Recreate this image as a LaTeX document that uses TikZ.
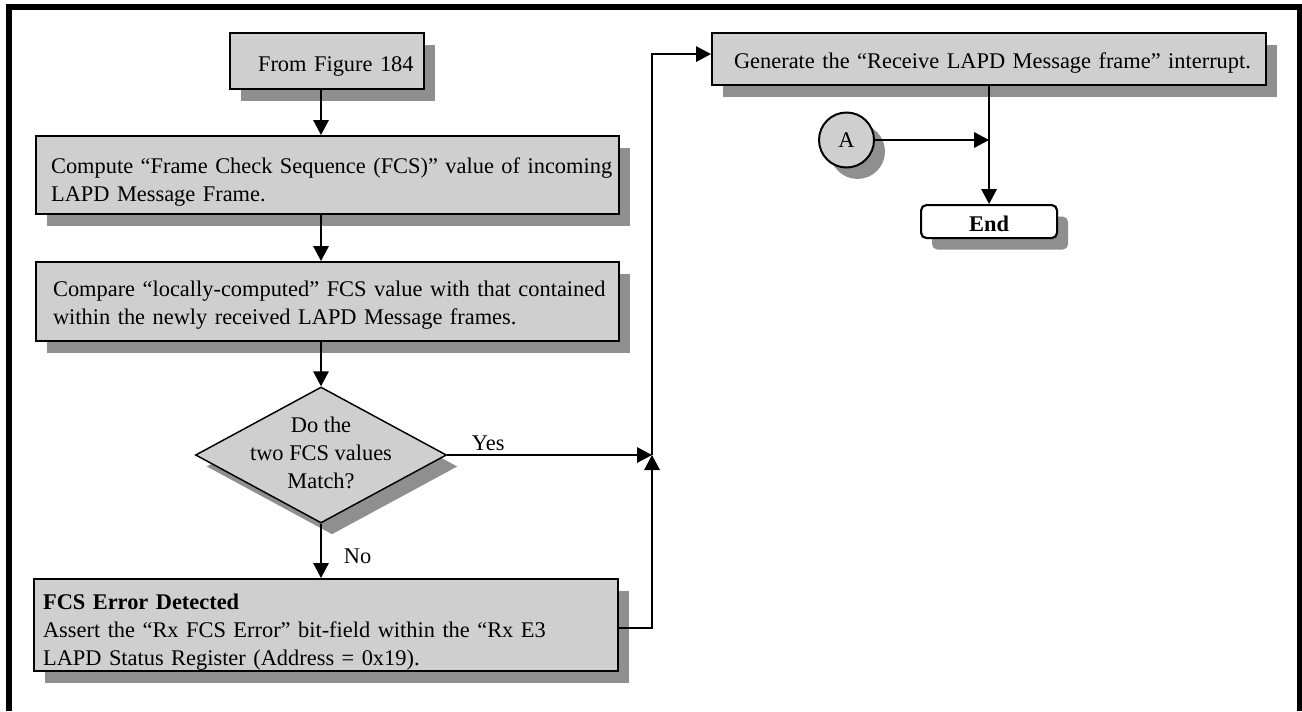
\documentclass[tikz,border=0pt]{standalone}
\usepackage{fontspec}
\setmainfont{Liberation Serif}
\usetikzlibrary{arrows.meta,shapes.geometric,shadows}
\newdimen\px \px=0.75pt
\begin{document}
\begin{tikzpicture}[x=0.75pt,y=-0.75pt,
  font=\fontsize{16.8}{21}\selectfont,
  shad/.style={drop shadow={shadow xshift=8.25pt,shadow yshift=-8.6pt,opacity=1,fill=black!44}},
  procbox/.style={draw=black,line width=1.6pt,fill=black!19,shad,rectangle,anchor=north west,inner ysep=0pt,align=left},
  conn/.style={line width=1.3pt,draw=black},
  arr/.style={conn,-{Triangle[length=11.25pt,width=11.6pt]}},
  lbl/.style={inner sep=0pt}
]
\useasboundingbox (0,0) rectangle (1302,711);
\draw[line width=4.5pt,line join=miter] (9,711) -- (9,7) -- (1300,7) -- (1300,711);

\node[procbox, inner xsep=28\px, text width=138\px] (from) at (229,32)
  {\mbox{\rule{0pt}{38\px}From Figure 184\rule[-18\px]{0pt}{0pt}}};
\node[procbox, inner xsep=15\px, text width=553\px] (comp) at (35,135)
  {\mbox{\rule{0pt}{37\px}Compute “Frame Check Sequence (FCS)” value of incoming}\\
   \mbox{LAPD Message Frame.\rule[-13\px]{0pt}{0pt}}};
\node[procbox, inner xsep=17\px, text width=549\px] (cmp) at (35,261)
  {\mbox{\rule{0pt}{34\px}Compare “locally-computed” FCS value with that contained}\\
   \mbox{within the newly received LAPD Message frames.\rule[-17\px]{0pt}{0pt}}};
\node[diamond, draw, line width=1.1pt, fill=black!19, shad, minimum width=251\px,
      minimum height=136\px, inner sep=0pt] (dec) at (321,455)
  {\raisebox{-33\px}[0pt][0pt]{\makebox[0pt]{\begin{tabular}[b]{@{}c@{}}Do the\\two FCS values\\Match?\end{tabular}}}};
\node[procbox, inner xsep=9\px, text width=566\px] (err) at (33,578)
  {\mbox{\rule{0pt}{30\px}\textbf{FCS Error Detected}}\\
   \mbox{Assert the “Rx FCS Error” bit-field within the “Rx E3}\\
   \mbox{LAPD Status Register (Address = 0x19).\rule[-6\px]{0pt}{0pt}}};
\node[procbox, inner xsep=22\px, text width=510\px] (gen) at (711,32)
  {\mbox{\rule{0pt}{35\px}Generate the “Receive LAPD Message frame” interrupt.\rule[-17\px]{0pt}{0pt}}};
\node[circle, draw, line width=1.5pt, fill=black!19, shad, minimum size=55\px, inner sep=0pt] (A) at (846.5,140) {A};
\node[draw, line width=1.6pt, fill=white, rounded corners=4pt, shad, anchor=north west,
      inner sep=0pt, text width=136\px, align=center] (endn) at (920,204)
  {\rule{0pt}{26\px}\textbf{End}\rule[-7\px]{0pt}{0pt}};

\coordinate (col) at (321,0);
\coordinate (spine) at (652,0);
\coordinate (j) at (dec.east -| spine);

\draw[arr] (from.south -| col) -- (comp.north -| col);
\draw[arr] (comp.south -| col) -- (cmp.north -| col);
\draw[arr] (cmp.south -| col) -- (dec.north);
\draw[arr] (dec.south) -- node[lbl, pos=0.727, anchor=base west, xshift=16.5pt] (no) {No} (err.north -| dec.south);
\draw[arr] (dec.east) -- node[lbl, pos=0.1165, anchor=base west, yshift=3.75pt] (yes) {Yes} (j);
\draw[arr] ([yshift=-2.25pt]err.east) -| (j);
\draw[arr] (j) |- ([yshift=3.75pt]gen.west);
\draw[arr] (A.east) -- (A.east -| gen.south);
\draw[arr] (gen.south) -- (gen.south |- endn.north);
\end{tikzpicture}
\end{document}
